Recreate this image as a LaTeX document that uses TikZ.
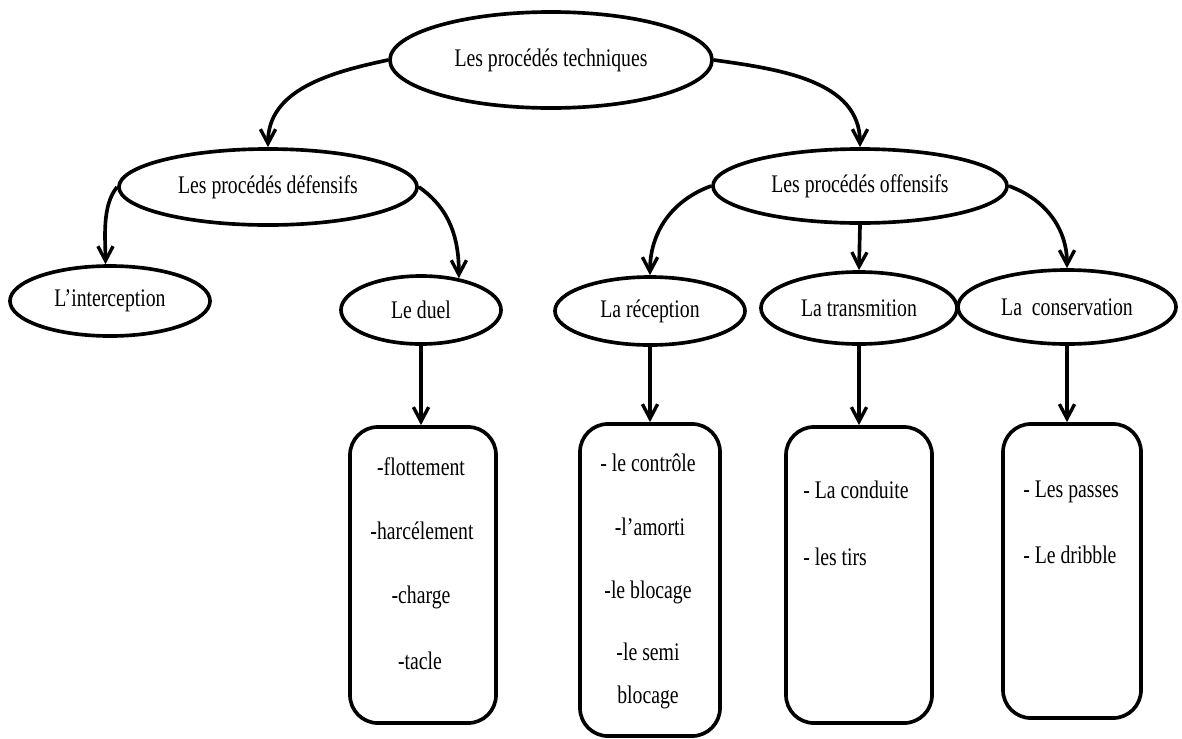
\documentclass[tikz,border=0pt]{standalone}
\usepackage{fontspec}
\setmainfont{Liberation Serif}[FakeStretch=0.78]
\usetikzlibrary{shapes.geometric}
\usetikzlibrary{arrows.meta}

\tikzset{
  oval/.style = {ellipse, draw, line width=2.6pt, inner sep=0pt},
  listbox/.style = {rectangle, draw, line width=2.6pt, rounded corners=0.7cm, inner sep=0pt, minimum width=#1},
  entry/.style = {inner sep=0pt},
  link/.style = {line width=2.6pt, -{Straight Barb[length=3.6mm, width=3.8mm, line width=2.4pt]}}
}

\begin{document}
\begin{tikzpicture}[x = 0.025cm, y = -0.025cm, font=\fontsize{18}{21}\selectfont]
	\useasboundingbox (0, 0) rectangle (1182, 738);

	% les ovales
	\node [oval, minimum width=8.05cm, minimum height=2.4cm] (tech) at (551, 60) {Les procédés techniques};
	\node [oval, minimum width=7.45cm, minimum height=1.9cm] (def) at (268, 187) {Les procédés défensifs};
	\node [oval, minimum width=7.35cm, minimum height=1.85cm] (off) at (860, 186) {Les procédés offensifs};
	\node [oval, minimum width=5cm, minimum height=1.75cm] (inter) at (110, 301) {L'interception};
	\node [oval, minimum width=4cm, minimum height=1.7cm] (duel) at (421, 310) {Le duel};
	\node [oval, minimum width=4.75cm, minimum height=1.7cm] (recep) at (650, 311) {La réception};
	\node [oval, minimum width=4.9cm, minimum height=1.8cm] (trans) at (859, 308) {La transmition};
	\node [oval, minimum width=5.45cm, minimum height=1.85cm] (cons) at (1067, 307) {La\ \ conservation};

	% les cadres
	\node [listbox=3.65cm, minimum height=7.4cm] (bduel) at (423, 575) {};
	\node [listbox=3.5cm, minimum height=7.8cm] (brecep) at (650, 580) {};
	\node [listbox=3.65cm, minimum height=7.4cm] (btrans) at (859, 575) {};
	\node [listbox=3.45cm, minimum height=7.35cm] (bcons) at (1072, 571) {};

	% le contenu
	\node [entry] (flot) at (421, 467) {-flottement};
	\node [entry] (harc) at (422, 531) {-harcélement};
	\node [entry] (charge) at (421, 597) {-charge};
	\node [entry] (tacle) at (420, 661) {-tacle};
	\node [entry] (ctrl) at (648, 463) {- le contrôle};
	\node [entry] (amorti) at (650, 527) {-l'amorti};
	\node [entry] (bloc) at (648, 592) {-le blocage};
	\node [entry, align=center] (semi) at (648, 676) {-le semi\\[9pt]blocage};
	\node [entry, anchor=west] (cond) at (803, 490) {- La conduite};
	\node [entry, anchor=west] (tirs) at (803, 557) {- les tirs};
	\node [entry, anchor=west] (passes) at (1023, 492) {- Les passes};
	\node [entry, anchor=west] (dribble) at (1023, 555) {- Le dribble};

	% les fleches
	\draw [link] (tech.west) to [out=192, in=90] (def.north);
	\draw [link] (tech.east) to [out=-8, in=90] (off.north);
	\draw [link] (def.west) to [out=230, in=90, looseness=0.8] (inter.97);
	\draw [link] (def.east) to [out=-35, in=90] (duel.40);
	\draw [link] (off.west) to [out=200, in=90] (recep.north);
	\draw [link] (off.south) -- (trans.north);
	\draw [link] (off.east) to [out=-20, in=90] (cons.north);
	\draw [link] (duel.south) -- (duel.south |- bduel.north);
	\draw [link] (recep.south) -- (recep.south |- brecep.north);
	\draw [link] (trans.south) -- (trans.south |- btrans.north);
	\draw [link] (cons.south) -- (cons.south |- bcons.north);
\end{tikzpicture}
\end{document}
